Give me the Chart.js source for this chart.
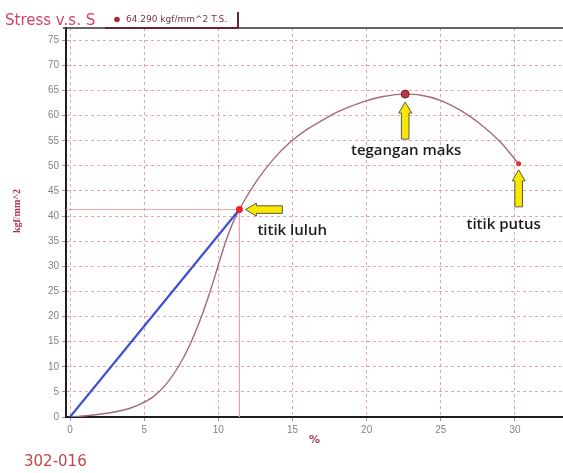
<!DOCTYPE html>
<html lang="en">
<head>
<meta charset="UTF-8">
<title>Stress v.s. S</title>
<script src="https://cdn.jsdelivr.net/npm/chart.js"></script>
<style>
  html, body { margin: 0; padding: 0; background: #fff; }
</style>
</head>
<body>
<canvas id="chart" width="563" height="473"></canvas>

<script>
// strain (%) and stress (kgf/mm^2)
const strainPct = [0, 1.6, 3.0, 4.0, 4.7, 5.6, 6.5, 7.4, 8.1, 8.8, 9.3, 9.8, 10.2, 10.6, 11.0, 11.42, 11.8, 12.15, 12.8, 13.7, 14.8, 16.0, 17.1, 18.0, 19.8, 21.1, 22.6, 23.6, 25.0, 26.3, 27.6, 29.0, 30.25];
const stressKgf = [0, 0.4, 1.0, 1.7, 2.5, 4.0, 6.6, 10.5, 14.5, 19.5, 23.7, 28.3, 32.2, 35.8, 38.8, 41.3, 43.3, 45.0, 47.9, 51.3, 54.6, 57.3, 59.2, 60.7, 62.8, 63.8, 64.29, 64.1, 63.0, 61.1, 58.5, 54.8, 50.4];

// elastic line
const elasticX = [0, 11.42];
const elasticY = [0, 41.3];

// marked points
const yieldPt = [11.42, 41.3];
const maxPt = [22.6, 64.29];
const breakPt = [30.25, 50.4];

const xTicks = [0, 5, 10, 15, 20, 25, 30];
const yTicks = [0, 5, 10, 15, 20, 25, 30, 35, 40, 45, 50, 55, 60, 65, 70, 75];
const xMin = -0.27, xMax = 33.24;
const yMin = 0, yMax = 77.45;

const pts = (xs, ys) => xs.map((v, i) => ({x: v, y: ys[i]}));

function arrow(ctx, tx, ty, dir) {
    // yellow block arrow, tip at (tx, ty)
    const L = 37, H = 11, hw = 6.5, sw = 3.8;
    let p;
    if (dir === 'up') {
        p = [[tx, ty], [tx + hw, ty + H], [tx + sw, ty + H], [tx + sw, ty + L],
             [tx - sw, ty + L], [tx - sw, ty + H], [tx - hw, ty + H]];
    } else {
        p = [[tx, ty], [tx + H, ty - hw], [tx + H, ty - sw], [tx + L, ty - sw],
             [tx + L, ty + sw], [tx + H, ty + sw], [tx + H, ty + hw]];
    }
    ctx.beginPath();
    ctx.moveTo(p[0][0], p[0][1]);
    p.slice(1).forEach(q => ctx.lineTo(q[0], q[1]));
    ctx.closePath();
    ctx.fillStyle = '#f8e800';
    ctx.fill();
    ctx.strokeStyle = '#5a5a4a';
    ctx.lineWidth = 1;
    ctx.stroke();
}

const extras = {
    id: 'extras',
    afterDraw(chart) {
        const {ctx, chartArea: a, scales: {x, y}} = chart;
        ctx.save();

        // top frame line
        ctx.strokeStyle = '#333';
        ctx.lineWidth = 1.5;
        ctx.beginPath();
        ctx.moveTo(a.left - 3, a.top);
        ctx.lineTo(a.right, a.top);
        ctx.stroke();

        // title + legend box
        ctx.fillStyle = '#d2426a';
        ctx.font = '15px "DejaVu Sans"';
        ctx.textBaseline = 'alphabetic';
        ctx.textAlign = 'left';
        ctx.fillText('Stress v.s. S', 5, 25);

        ctx.strokeStyle = '#6a2232';
        ctx.lineWidth = 2;
        ctx.beginPath();
        ctx.moveTo(105, a.top);
        ctx.lineTo(238, a.top);
        ctx.moveTo(238, a.top);
        ctx.lineTo(238, 12);
        ctx.stroke();

        ctx.beginPath();
        ctx.arc(117, 19.5, 2.8, 0, Math.PI * 2);
        ctx.fillStyle = '#a8283a';
        ctx.fill();
        ctx.fillStyle = '#7a3444';
        ctx.font = '9px "DejaVu Sans"';
        ctx.textBaseline = 'middle';
        ctx.fillText('64.290 kgf/mm^2 T.S.', 126, 20);

        // y axis title
        ctx.save();
        ctx.translate(17, 211);
        ctx.rotate(-Math.PI / 2);
        ctx.textAlign = 'center';
        ctx.fillStyle = '#b0304a';
        ctx.font = 'bold 10px "Liberation Serif"';
        ctx.fillText('kgf/mm^2', 0, 0);
        ctx.restore();

        // sample id
        ctx.fillStyle = '#c04848';
        ctx.font = '15px "DejaVu Sans"';
        ctx.textAlign = 'left';
        ctx.fillText('302-016', 24, 462);

        // arrows + labels, placed from the marked points
        const yx = x.getPixelForValue(yieldPt[0]), yy = y.getPixelForValue(yieldPt[1]);
        const mx = x.getPixelForValue(maxPt[0]), my = y.getPixelForValue(maxPt[1]);
        const bx = x.getPixelForValue(breakPt[0]), by = y.getPixelForValue(breakPt[1]);

        arrow(ctx, yx + 6, yy, 'left');
        arrow(ctx, mx, my + 8, 'up');
        arrow(ctx, bx, by + 6, 'up');

        ctx.fillStyle = '#1c1c1c';
        ctx.font = '600 15px "Open Sans"';
        ctx.textBaseline = 'middle';
        ctx.textAlign = 'left';
        ctx.fillText('titik luluh', yx + 18, yy + 21);
        ctx.textAlign = 'center';
        ctx.fillText('tegangan maks', mx + 1, my + 57);
        ctx.fillText('titik putus', bx - 15, by + 61);

        ctx.restore();
    }
};

new Chart(document.getElementById('chart'), {
    type: 'scatter',
    data: {
        datasets: [
            {
                data: pts([yieldPt[0]], [yieldPt[1]]),
                pointRadius: 3.5, backgroundColor: '#e8262a', borderWidth: 0
            },
            {
                data: pts([maxPt[0]], [maxPt[1]]),
                pointRadius: 4, backgroundColor: '#b8384a', borderColor: '#7a1e2a', borderWidth: 1
            },
            {
                data: pts([breakPt[0]], [breakPt[1]]),
                pointRadius: 2.5, backgroundColor: '#e03030', borderWidth: 0
            },
            {
                data: pts(elasticX, elasticY),
                showLine: true, borderColor: '#3d4fd6', borderWidth: 2.2, pointRadius: 0
            },
            {
                data: pts(strainPct, stressKgf),
                showLine: true, borderColor: '#a8687c', borderWidth: 1.4, pointRadius: 0,
                cubicInterpolationMode: 'monotone'
            },
            {
                data: pts([xMin, yieldPt[0], yieldPt[0]], [yieldPt[1], yieldPt[1], yMin]),
                showLine: true, borderColor: '#e2aab0', borderWidth: 1, pointRadius: 0
            }
        ]
    },
    options: {
        responsive: false,
        animation: false,
        devicePixelRatio: 1,
        layout: {autoPadding: false, padding: {top: 28, right: 0, left: 0, bottom: 0}},
        plugins: {legend: {display: false}, tooltip: {enabled: false}},
        scales: {
            x: {
                type: 'linear', min: xMin, max: xMax,
                afterBuildTicks: s => { s.ticks = xTicks.map(v => ({value: v})); },
                afterFit: s => { s.height = 56; s.paddingLeft = 0; s.paddingRight = 0; },
                ticks: {color: '#8a8080', font: {family: 'Liberation Sans', size: 10}, padding: 3, maxRotation: 0},
                grid: {color: 'rgba(226,150,158,0.85)', lineWidth: 1, tickLength: 4, tickColor: '#999'},
                border: {color: '#1e1e1e', width: 2, dash: [3, 3]},
                title: {display: true, text: '%', color: '#b04050',
                        font: {family: 'DejaVu Sans', size: 11, weight: 'bold'}, padding: {top: 0, bottom: 26}}
            },
            y: {
                type: 'linear', min: yMin, max: yMax,
                afterBuildTicks: s => { s.ticks = yTicks.map(v => ({value: v})); },
                afterFit: s => { s.width = 66; s.paddingTop = 0; s.paddingBottom = 0; },
                ticks: {color: '#8a8080', font: {family: 'Liberation Sans', size: 10}, padding: 3},
                grid: {color: 'rgba(226,150,158,0.85)', lineWidth: 1, tickLength: 4, tickColor: '#999'},
                border: {color: '#1e1e1e', width: 2, dash: [3, 3]}
            }
        }
    },
    plugins: [extras]
});
</script>
</body>
</html>
